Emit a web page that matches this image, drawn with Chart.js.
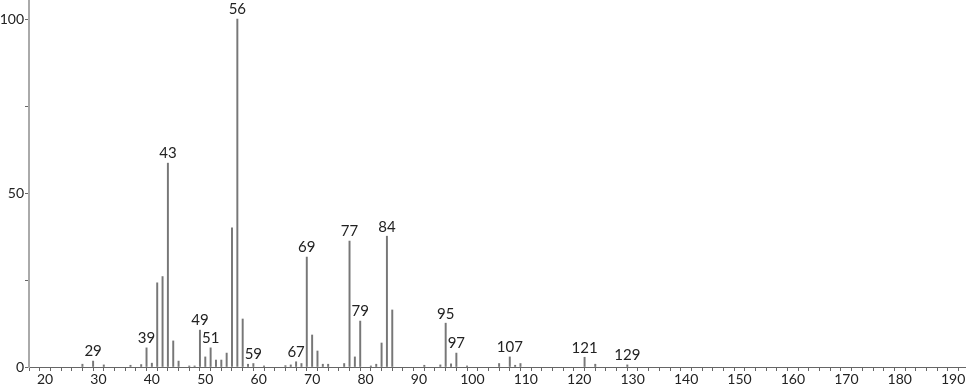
<!DOCTYPE html>
<html>
<head>
<meta charset="utf-8">
<script src="https://cdn.jsdelivr.net/npm/chart.js@4.4.0/dist/chart.umd.min.js"></script>
<style>
  html, body { margin: 0; padding: 0; background: #fff; }
  #wrap { width: 966px; height: 389px; position: relative; }
</style>
</head>
<body>
<div id="wrap"><canvas id="spec"></canvas></div>
<script>
// m/z values and relative intensities
const mz = [27, 29, 31, 36, 38, 39, 40, 41, 42, 43, 44, 45, 47, 48, 49, 50, 51, 52, 53, 54, 55, 56, 57, 58, 59,
            61, 65, 66, 67, 68, 69, 70, 71, 72, 73, 76, 77, 78, 79, 81, 82, 83, 84, 85, 91, 94, 95, 96, 97, 99,
            105, 107, 108, 109, 121, 123, 129];
const intensity = [0.8, 1.7, 0.6, 0.5, 0.7, 5.5, 1.1, 24.2, 26, 58.6, 7.5, 1.7, 0.3, 0.3, 10.6, 2.9, 5.5, 2, 2, 4, 40, 100, 13.8, 0.8, 1,
                   0.3, 0.4, 0.6, 1.5, 1, 31.6, 9.2, 4.6, 0.8, 0.8, 1, 36.2, 2.9, 13.2, 0.3, 0.8, 6.9, 37.6, 16.4, 0.5, 0.6, 12.6, 0.9, 4, 0.3,
                   1, 2.9, 0.5, 1, 2.8, 0.8, 0.6];
const labeledPeaks = [29, 39, 43, 49, 51, 56, 59, 67, 69, 77, 79, 84, 95, 97, 107, 121, 129];
const yLabels = [0, 50, 100];

const FONT = '"Lato", "DejaVu Sans", sans-serif';

const peakLabels = {
  id: 'peakLabels',
  afterDatasetsDraw(chart) {
    const ctx = chart.ctx;
    const xs = chart.scales.x, ys = chart.scales.y;
    ctx.save();
    ctx.font = '15px ' + FONT;
    ctx.fillStyle = '#222';
    ctx.textAlign = 'center';
    ctx.textBaseline = 'bottom';
    labeledPeaks.forEach(m => {
      const i = mz.indexOf(m);
      const px = xs.getPixelForValue(m);
      const py = ys.getPixelForValue(intensity[i]);
      ctx.fillText(String(m), px, py - 2);
    });
    ctx.restore();
  }
};

// no extra room for half-labels at the ends of the axes
function noPad(s) {
  s.paddingTop = 0; s.paddingBottom = 0; s.paddingLeft = 0; s.paddingRight = 0;
}

new Chart(document.getElementById('spec'), {
  type: 'bar',
  data: {
    datasets: [{
      data: mz.map((m, i) => ({ x: m, y: intensity[i] })),
      backgroundColor: '#777',
      barThickness: 1.3,
      borderWidth: 0
    }]
  },
  options: {
    responsive: true,
    maintainAspectRatio: false,
    animation: false,
    layout: { padding: 0 },
    plugins: { legend: { display: false }, tooltip: { enabled: false } },
    scales: {
      x: {
        type: 'linear',
        min: 17, max: 192.4,
        offset: false,
        afterFit: s => { s.height = 22; noPad(s); },
        border: { color: '#666', width: 1 },
        grid: { drawOnChartArea: false, tickLength: 4, color: '#666' },
        ticks: {
          stepSize: 2, includeBounds: false, autoSkip: false, maxTicksLimit: 200, maxRotation: 0,
          padding: 0, color: '#222', font: { family: FONT, size: 14 },
          callback: v => (v % 10 === 0 ? String(v) : '')
        }
      },
      y: {
        min: 0, max: 105.5,
        afterFit: s => { s.width = 29; noPad(s); },
        border: { color: '#aaa', width: 2 },
        grid: { drawOnChartArea: false, tickLength: 4, color: '#666' },
        ticks: {
          stepSize: 25, includeBounds: false, padding: 1, color: '#222',
          font: { family: FONT, size: 14 },
          callback: v => (yLabels.includes(v) ? String(v) : '')
        }
      }
    }
  },
  plugins: [peakLabels]
});
</script>
</body>
</html>
